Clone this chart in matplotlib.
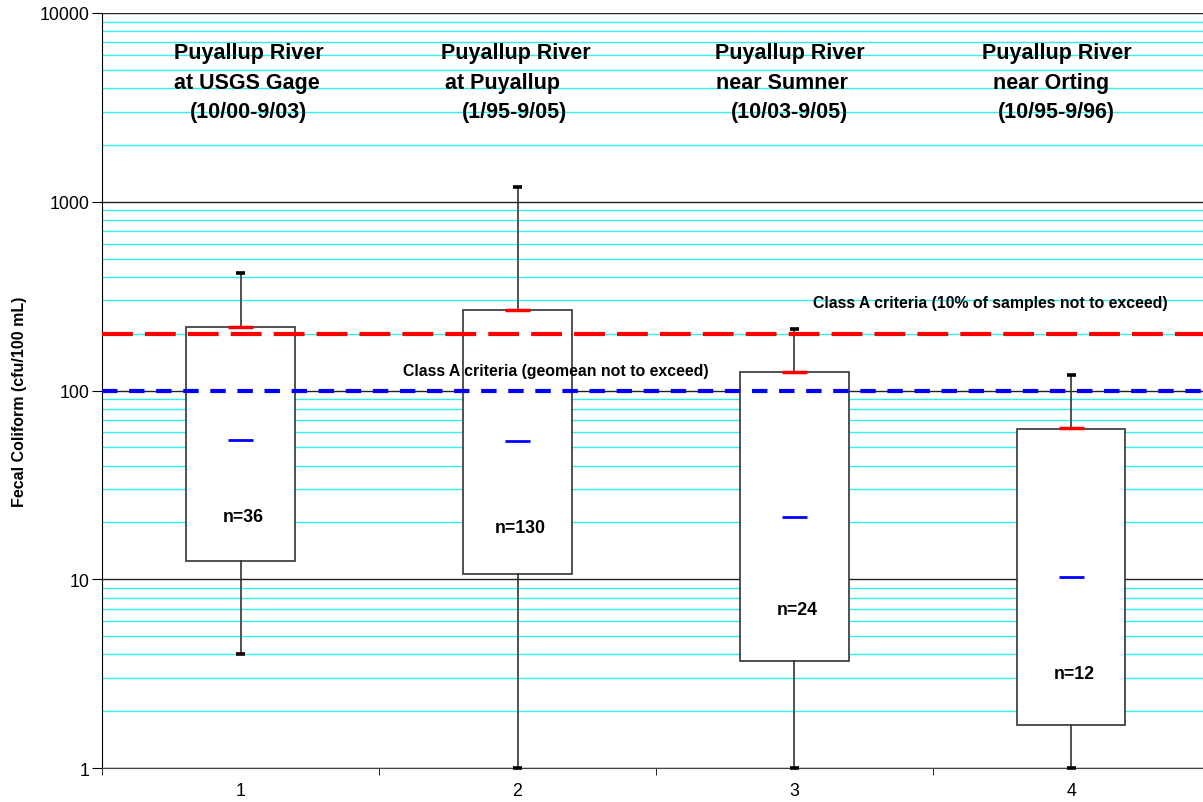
import numpy as np
import matplotlib.pyplot as plt
from matplotlib.ticker import LogLocator, FixedLocator, NullFormatter

plt.rcParams['font.family'] = ['Liberation Sans', 'DejaVu Sans']

# station summaries (fecal coliform, cfu/100 mL)
positions = [1, 2, 3, 4]
q1 = [12.5, 10.7, 3.7, 1.7]
q3 = [217, 267, 125, 62.5]
whis_lo = [4.0, 1.0, 1.0, 1.0]
whis_hi = [420, 1200, 212, 121]
pct90 = [217, 267, 126, 63]
geomean = [54.5, 54, 21.4, 10.3]
n_samples = [36, 130, 24, 12]
station_lines = [
    ["Puyallup River", "at USGS Gage", "(10/00-9/03)"],
    ["Puyallup River", "at Puyallup", "(1/95-9/05)"],
    ["Puyallup River", "near Sumner", "(10/03-9/05)"],
    ["Puyallup River", "near Orting", "(10/95-9/96)"],
]
geomean_crit = 100
pct10_crit = 200

# text placement
n_label_y = [21.6, 18.9, 6.9, 3.15]
title_x = [[0.76, 0.76, 0.818], [1.724, 1.738, 1.80],
           [2.713, 2.717, 2.771], [3.677, 3.717, 3.735]]
title_y = [6138, 4285, 2989]

fig = plt.figure(figsize=(12.03, 8.03), dpi=100)
ax = fig.add_axes([0.0848, 0.0423, 0.921, 0.9403])
ax.set_yscale('log')
ax.set_ylim(1, 10000)
ax.set_xlim(0.5, 4.5)

# grid: dark decades, cyan minor lines
ax.yaxis.set_minor_locator(LogLocator(base=10, subs=np.arange(2, 10), numticks=20))
ax.yaxis.set_minor_formatter(NullFormatter())
ax.grid(True, which='major', axis='y', color='#222222', lw=1.0, zorder=0)
ax.grid(True, which='minor', axis='y', color='#2ef0f0', lw=1.0, zorder=0)
ax.set_axisbelow(True)
ax.set_yticks([1, 10, 100, 1000, 10000])
ax.set_yticklabels(['1', '10', '100', '1000', '10000'])
ax.tick_params(axis='y', which='major', length=7, labelsize=12.8, pad=2)
ax.tick_params(axis='y', which='minor', length=0)

ax.set_xticks(positions)
ax.set_xticklabels([str(p) for p in positions])
ax.xaxis.set_minor_locator(FixedLocator([0.5, 1.5, 2.5, 3.5]))
ax.tick_params(axis='x', which='major', length=0, labelsize=12.8, pad=10)
ax.tick_params(axis='x', which='minor', length=5)

for s in ['top', 'right']:
    ax.spines[s].set_visible(False)
ax.spines['left'].set_color('black')
ax.spines['bottom'].set_color('#444444')

stats = []
for i in range(len(positions)):
    stats.append(dict(q1=q1[i], q3=q3[i], med=geomean[i], whislo=whis_lo[i],
                      whishi=whis_hi[i], fliers=[]))
bp = ax.bxp(stats, positions=positions, widths=0.39, patch_artist=True,
            showfliers=False, capwidths=0.035,
            boxprops=dict(facecolor='white', edgecolor='#333333', lw=1.2),
            whiskerprops=dict(color='#333333', lw=1.2),
            capprops=dict(color='black', lw=2.6, solid_capstyle='butt'),
            medianprops=dict(visible=False))
for cap in bp['caps']:
    cap.set_clip_on(False)
    cap.set_zorder(5)

# criteria lines
ax.axhline(pct10_crit, color='#ff0000', lw=3, dashes=(7.4, 2.9), zorder=4)
ax.axhline(geomean_crit, color='#0000ff', lw=3, dashes=(3.7, 2.8), zorder=4)
ax.text(3.067, 291, 'Class A criteria (10% of samples not to exceed)',
        fontsize=11.4, fontweight='bold', va='center', ha='left')
ax.text(1.587, 127, 'Class A criteria (geomean not to exceed)',
        fontsize=11.4, fontweight='bold', va='center', ha='left')

# 90th percentile and geomean markers
ax.hlines(pct90, np.array(positions) - 0.046, np.array(positions) + 0.046,
          color='#ff0000', lw=2.5, zorder=5)
ax.hlines(geomean, np.array(positions) - 0.046, np.array(positions) + 0.046,
          color='#0000ff', lw=2, zorder=5)

for p, n, y in zip(positions, n_samples, n_label_y):
    ax.text(p + 0.01, y, f'n={n}', fontsize=12.8, fontweight='bold',
            ha='center', va='center', zorder=6)

for lines, xs in zip(station_lines, title_x):
    for line, xx, yy in zip(lines, xs, title_y):
        ax.text(xx, yy, line, fontsize=15.5, fontweight='bold',
                ha='left', va='center')

fig.text(0.016, 0.5, 'Fecal Coliform (cfu/100 mL)', rotation=90, fontsize=11.5,
         fontweight='bold', ha='center', va='center')

fig.savefig('out.png', dpi=100)
